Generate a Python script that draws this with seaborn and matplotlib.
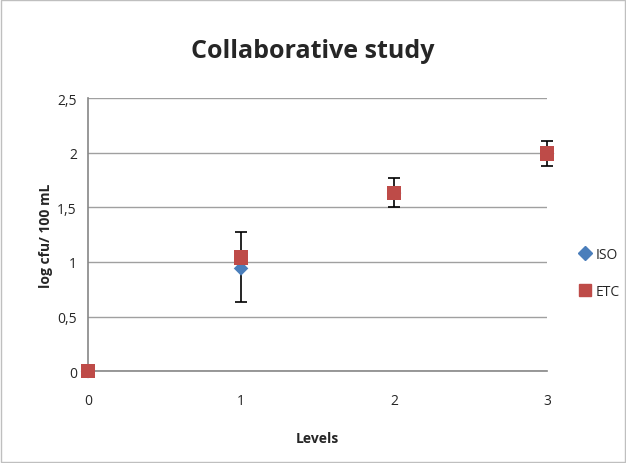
import numpy as np
import pandas as pd
import matplotlib.pyplot as plt
import seaborn as sns
from matplotlib.lines import Line2D

levels = [0, 1, 2, 3]
iso_vals = [0.0, 0.94, 1.63, 1.99]
etc_vals = [0.0, 1.04, 1.63, 1.99]
err_low = [0.0, 0.31, 0.13, 0.11]
err_high = [0.0, 0.33, 0.14, 0.12]
y_ticks = [0, 0.5, 1, 1.5, 2, 2.5]
y_labels = ['0', '0,5', '1', '1,5', '2', '2,5']

df = pd.DataFrame({
    'Levels': levels * 2,
    'value': iso_vals + etc_vals,
    'series': ['ISO'] * 4 + ['ETC'] * 4,
})

sns.set_style('white')
plt.rcParams['font.family'] = ['Open Sans', 'DejaVu Sans']

fig = plt.figure(figsize=(6.26, 4.64), dpi=100)
fig.patches.append(plt.Rectangle((0.002, 0.002), 0.996, 0.996, transform=fig.transFigure,
                                 fill=False, edgecolor='#bfbfbf', linewidth=1))
ax = fig.add_axes([0.1406, 0.198, 0.7334, 0.5886])

ax.errorbar(levels, iso_vals, yerr=[err_low, err_high], fmt='none', ecolor='black',
            elinewidth=1.2, capsize=4, capthick=1.2, zorder=2, clip_on=False)
sns.scatterplot(data=df, x='Levels', y='value', hue='series', style='series',
                markers={'ISO': 'D', 'ETC': 's'}, palette={'ISO': '#4a7ebb', 'ETC': '#be4b48'},
                s=[55] * 4 + [110] * 4, edgecolor='none', ax=ax, zorder=3, clip_on=False,
                legend=False)

ax.set_xlim(0, 3)
ax.set_ylim(0, 2.5)
ax.set_xticks(levels)
ax.set_yticks(y_ticks)
ax.set_yticklabels(y_labels)
ax.grid(axis='y', color='#a0a0a0', linewidth=1)
ax.set_axisbelow(True)
for s in ['top', 'right']:
    ax.spines[s].set_visible(False)
for s in ['left', 'bottom']:
    ax.spines[s].set_color('#868686')
    ax.spines[s].set_linewidth(1.2)
ax.tick_params(axis='y', length=0, labelsize=10, pad=8)
ax.tick_params(axis='x', length=0, labelsize=10, pad=16)

ax.set_xlabel('Levels', fontsize=10, fontweight='bold', labelpad=16)
ax.set_ylabel('log cfu/ 100 mL', fontsize=10, fontweight='bold', labelpad=3)
fig.text(0.5, 0.888, 'Collaborative study', ha='center', va='center', fontsize=18, fontweight='bold')

handles = [Line2D([], [], marker='D', color='#4a7ebb', linestyle='none', markersize=7),
           Line2D([], [], marker='s', color='#be4b48', linestyle='none', markersize=8)]
fig.legend(handles, ['ISO', 'ETC'], loc='center left', bbox_to_anchor=(0.903, 0.41),
           frameon=False, fontsize=10, handletextpad=0.3, labelspacing=1.6, handlelength=1)

fig.savefig('out.png', dpi=100)
